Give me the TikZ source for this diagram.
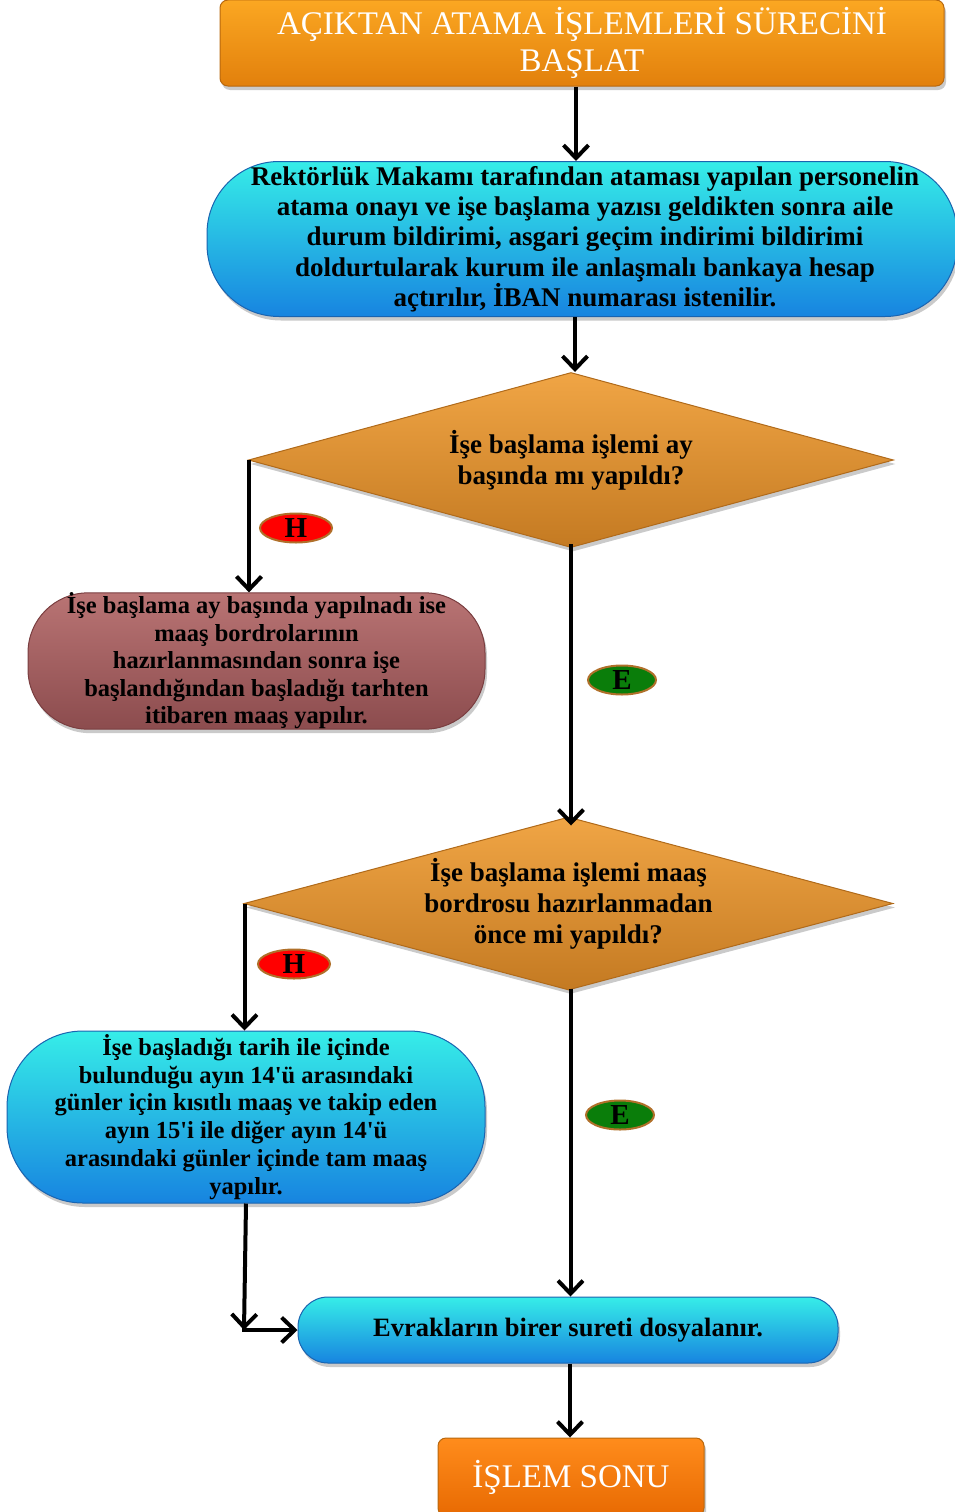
\documentclass[tikz,border=0pt]{standalone}
\usepackage{fontspec}
\setmainfont{Liberation Serif}
\usetikzlibrary{shapes.geometric,arrows.meta,shadows,calc}
\definecolor{orT}{HTML}{FBA722}
\definecolor{orB}{HTML}{E2800C}
\definecolor{orD}{HTML}{B8680E}
\definecolor{cyT}{HTML}{36EDE8}
\definecolor{cyB}{HTML}{1784E0}
\definecolor{cyD}{HTML}{1A64B0}
\definecolor{dmT}{HTML}{F0A545}
\definecolor{dmB}{HTML}{C47A22}
\definecolor{dmD}{HTML}{B06A1A}
\definecolor{rbT}{HTML}{B97474}
\definecolor{rbB}{HTML}{8C4C4E}
\definecolor{rbD}{HTML}{7A3E40}
\definecolor{enT}{HTML}{FF8C1C}
\definecolor{enB}{HTML}{E86A02}
\definecolor{lblD}{HTML}{B0702A}
\definecolor{grE}{HTML}{0A7D0A}
\newcommand{\apos}{\textquotesingle}
\begin{document}
\begin{tikzpicture}[x=1pt,y=-1pt,
  every node/.style={inner sep=0pt, align=center},
  arr/.style={line width=4pt, draw=black, -{Straight Barb[length=13pt,width=25pt]}},
  shad/.style={drop shadow={shadow xshift=2pt, shadow yshift=-4pt, opacity=0.35, fill=black!60}},
  orangebox/.style={shad, draw=orD, line width=1pt, top color=orT, bottom color=orB, rounded corners=8pt,
     text=white, font=\fontsize{33}{37}\selectfont},
  endbox/.style={shad, draw=orD, line width=1pt, top color=enT, bottom color=enB, rounded corners=8pt,
     text=white, font=\fontsize{33}{37}\selectfont},
  bluepill/.style={shad, draw=cyD, line width=1pt, top color=cyT, bottom color=cyB},
  redpill/.style={shad, draw=rbD, line width=1pt, top color=rbT, bottom color=rbB},
  decision/.style={shad, diamond, aspect=3.7, draw=dmD, line width=1pt, top color=dmT, bottom color=dmB,
     font=\bfseries\fontsize{27}{31}\selectfont},
  hlabel/.style={ellipse, draw=lblD, line width=2pt, fill=red, minimum width=72pt, minimum height=29pt,
     font=\bfseries\fontsize{29}{29}\selectfont},
  elabel/.style={ellipse, draw=lblD, line width=2pt, fill=grE, minimum width=68pt, minimum height=29pt,
     font=\bfseries\fontsize{29}{29}\selectfont}
]
\useasboundingbox (0,0) rectangle (954,1512);

\node[orangebox, minimum width=724pt, minimum height=86pt] (start) at (582,43)
  {AÇIKTAN ATAMA İŞLEMLERİ SÜRECİNİ\\BAŞLAT};

\node[bluepill, rounded corners=72pt, minimum width=750pt, minimum height=155pt,
  font=\bfseries\fontsize{27}{30.3}\selectfont] (b2) at (582,239)
  {\hspace*{6pt}Rektörlük Makamı tarafından ataması yapılan personelin\\
   \hspace*{6pt}atama onayı ve işe başlama yazısı geldikten sonra aile\\
   \hspace*{6pt}durum bildirimi, asgari geçim indirimi bildirimi\\
   \hspace*{6pt}doldurtularak kurum ile anlaşmalı bankaya hesap\\
   \hspace*{6pt}açtırılır, İBAN numarası istenilir.};

\node[decision, minimum width=645pt, minimum height=175pt] (d1) at (571,460)
  {İşe başlama işlemi ay\\başında mı yapıldı?};

\node[redpill, rounded corners=60pt, minimum width=457pt, minimum height=129pt,
  font=\bfseries\fontsize{24.5}{27.5}\selectfont] (b3) at (256.5,661)
  {İşe başlama ay başında yapılnadı ise\\maaş bordrolarının\\hazırlanmasından sonra işe\\başlandığından başladığı tarhten\\itibaren maaş yapılır.};

\node[decision, minimum width=649pt, minimum height=173pt] (d2) at (568.5,903.5)
  {İşe başlama işlemi maaş\\bordrosu hazırlanmadan\\önce mi yapıldı?};

\node[bluepill, rounded corners=76pt, minimum width=478pt, minimum height=172pt,
  font=\bfseries\fontsize{24.5}{27.8}\selectfont] (b4) at (246,1117)
  {İşe başladığı tarih ile içinde\\bulunduğu ayın 14\apos ü arasındaki\\günler için kısıtlı maaş ve takip eden\\ayın 15\apos i ile diğer ayın 14\apos ü\\arasındaki günler içinde tam maaş\\yapılır.};

\node[bluepill, rounded corners=30pt, minimum width=540pt, minimum height=66pt,
  font=\bfseries\fontsize{26.5}{30}\selectfont] (b5) at (568,1330)
  {Evrakların birer sureti dosyalanır.};

\node[endbox, minimum width=266pt, minimum height=78pt] (end) at (571,1477)
  {İŞLEM SONU};

% connectors
\draw[arr] ([xshift=-6pt]start.south) -- ([xshift=-6pt]start.south |- b2.north);
\draw[arr] ([xshift=-7pt]b2.south) -- ([xshift=-7pt]b2.south |- d1.north);
\draw[arr] ([xshift=1pt]d1.west) -- ([xshift=1pt]d1.west |- b3.north);
\draw[arr] ([yshift=4pt]d1.south) -- ([yshift=-9pt]d1.south |- d2.north);
\draw[arr] ([xshift=1pt]d2.west) -- ([xshift=1pt]d2.west |- b4.north);
\coordinate (j) at ([xshift=-2pt]b4.south |- b5.west);
\draw[arr] (b4.south) -- (j);
\draw[arr, shorten <=-2pt] (j) -- (b5.west);
\draw[arr] ([xshift=2pt, yshift=2pt]d2.south) -- ([xshift=2pt]d2.south |- b5.north);
\draw[arr] ([xshift=2pt]b5.south) -- ([xshift=2pt]b5.south |- end.north);

% labels
\node[hlabel] (h1) at (296,528) {H};
\node[elabel] (e1) at (622,680) {E};
\node[hlabel] (h2) at (294,964) {H};
\node[elabel] (e2) at (620,1115) {E};
\end{tikzpicture}
\end{document}
